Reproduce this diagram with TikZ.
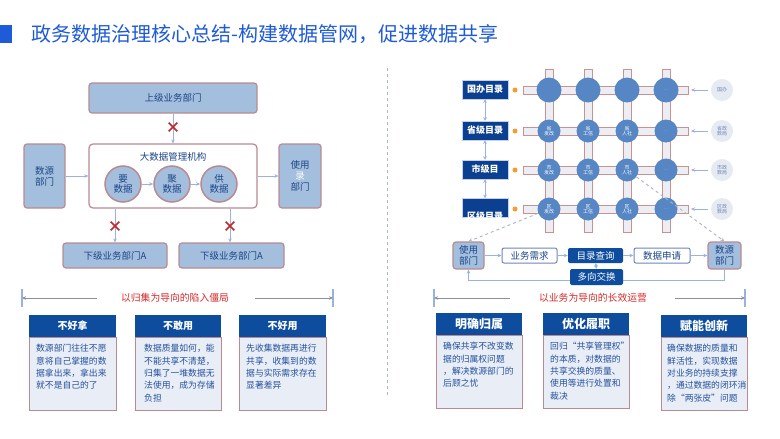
\documentclass[tikz,border=0pt]{standalone}
\usepackage{fontspec}
\setmainfont{Noto Sans CJK SC}
\usetikzlibrary{arrows.meta,shapes.misc}
\definecolor{titleblue}{HTML}{1E5BD8}
\definecolor{boxfill}{HTML}{A4BFDD}
\definecolor{boxedge}{HTML}{B98A8F}
\definecolor{txtblue}{HTML}{1C4587}
\definecolor{hdrblue}{HTML}{0E4C9E}
\definecolor{bodyfill}{HTML}{E9EDF5}
\definecolor{gridblue}{HTML}{5686C4}
\definecolor{pipefill}{HTML}{ECEEF3}
\definecolor{pipeedge}{HTML}{C99292}
\definecolor{arrowblue}{HTML}{9CB2DE}
\definecolor{xred}{HTML}{C0282A}
\definecolor{labred}{HTML}{D62A2A}
\definecolor{graycirc}{HTML}{E6EAF1}
\definecolor{dashgray}{HTML}{A9B4C6}
\definecolor{orangedot}{HTML}{F0A030}
\definecolor{brgray}{HTML}{8A8F99}
\definecolor{labbox}{HTML}{0B3F8F}
\definecolor{flowedge}{HTML}{6D87BD}
\definecolor{bodytext}{HTML}{24529E}
\tikzset{
  lbox/.style={draw=boxedge, fill=boxfill, rounded corners=3pt, line width=1.2pt, text=txtblue,
    font=\fontsize{9.5}{11}\selectfont, align=center, inner sep=0pt},
  wbox/.style={draw=boxedge, fill=white, rounded corners=4pt, line width=1.2pt, inner sep=0pt},
  lcirc/.style={circle, draw=boxedge, fill=boxfill, line width=1.5pt, text=txtblue, minimum size=36pt,
    inner sep=0pt, align=center, font=\fontsize{9.5}{10.5}\selectfont},
  arr/.style={draw=arrowblue, line width=1pt, -{Stealth[length=4pt,width=3.5pt]}},
  dbl/.style={draw=arrowblue, line width=1pt, {Stealth[length=3.5pt,width=3.5pt]}-{Stealth[length=3.5pt,width=3.5pt]}},
  xmark/.style={cross out, draw=xred, line width=1.6pt, minimum size=7pt, inner sep=0pt},
  hdr/.style={fill=hdrblue, text=white, inner sep=0pt, font=\bfseries\fontsize{10}{10}\selectfont},
  bodybox/.style={fill=bodyfill, draw=boxedge, line width=0.9pt, inner sep=0pt},
  bodytxt/.style={anchor=north west, align=left, inner sep=0pt, text=bodytext, font=\fontsize{8.8}{12.4}\selectfont},
  brline/.style={draw=brgray, line width=1pt, -{Stealth[length=4pt,width=3.5pt]}},
  brtick/.style={draw=arrowblue, line width=1.4pt},
  redlab/.style={text=labred, inner sep=0pt, font=\fontsize{9.8}{10}\selectfont},
  pipe/.style={fill=pipefill, draw=pipeedge, line width=0.8pt},
  gnode/.style={circle, fill=gridblue, minimum size=23pt, inner sep=0pt, text=white, align=center,
    font=\fontsize{5}{5.5}\selectfont},
  bub/.style={circle, fill=graycirc, minimum size=22pt, inner sep=0pt, text=flowedge, align=center,
    font=\fontsize{5}{5.5}\selectfont},
  dirbox/.style={fill=labbox, draw=arrowblue!60, line width=0.5pt, text=white, minimum width=46pt,
    minimum height=19pt, inner sep=0pt, font=\bfseries\fontsize{9}{9}\selectfont},
  flowW/.style={draw=flowedge, fill=white, rounded corners=2pt, line width=1pt, text=txtblue,
    inner sep=0pt, minimum height=15pt, font=\fontsize{9.5}{9.5}\selectfont},
  flowD/.style={fill=hdrblue, rounded corners=2pt, text=white, inner sep=0pt, minimum height=15pt,
    font=\fontsize{9.5}{9.5}\selectfont},
  dashconn/.style={draw=dashgray, dashed, line width=0.9pt, -{Stealth[length=4pt,width=3.5pt]}}
}
\begin{document}
\begin{tikzpicture}[x=1pt,y=-1pt]
\useasboundingbox[fill=white] (0,0) rectangle (780,439);
% title
\fill[titleblue] (0,25) rectangle (12,43);
\node[anchor=west, text=titleblue, inner sep=0pt, font=\fontsize{20}{20}\selectfont] (title) at (31,34) {政务数据治理核心总结-构建数据管网，促进数据共享};
% divider
\draw[dashgray, dashed, line width=0.8pt] (387,68) -- (387,395);

% ---------- left diagram ----------
\node[lbox, minimum width=168pt, minimum height=30pt] (sj) at (173,98) {上级业务部门};
\node[wbox, minimum width=168pt, minimum height=64pt] (dsj) at (173,176) {};
\node[text=txtblue, inner sep=0pt, font=\fontsize{9.5}{10}\selectfont] (dsjt) at (173,157) {大数据管理机构};
\node[lcirc] (c1) at (123,184) {要\\数据};
\node[lcirc] (c2) at (172,184) {聚\\数据};
\node[lcirc] (c3) at (219,184) {供\\数据};
\node[lbox, minimum width=41pt, minimum height=64pt] (sy) at (44.5,176) {数源\\部门};
\node[lbox, minimum width=42pt, minimum height=64pt] (syb) at (300,176) {使用\\{\color{white}录}\\部门};
\node[lbox, minimum width=104pt, minimum height=25pt] (xj1) at (115,255.5) {下级业务部门A};
\node[lbox, minimum width=105pt, minimum height=25pt] (xj2) at (231.5,255.5) {下级业务部门A};
\draw[arr] (sj) -- (dsj);
\draw[arr] (sy) -- (dsj);
\draw[arr] (dsj) -- (syb);
\draw[arr] (c1) -- (c2);
\draw[arr] (c2) -- (c3);
\draw[arr] (dsj.south -| xj1.north) -- (xj1.north);
\draw[arr] (dsj.south -| 230,0) -- (xj2.north -| 230,0);
\node[xmark] (x1) at (173,127) {};
\node[xmark] (x2) at (115,226) {};
\node[xmark] (x3) at (230,226) {};

% bracket left
\coordinate (bl1) at (22,298);
\coordinate (bl2) at (97,298);
\coordinate (bl3) at (255,298);
\coordinate (bl4) at (333,298);
\draw[brtick] (22,289) -- (22,307);
\draw[brtick] (333,289) -- (333,307);
\draw[brline] (bl2) -- (bl1);
\draw[brline] (bl3) -- (bl4);
\node[redlab] (lab1) at (175,298) {以归集为导向的陷入僵局};

% left bottom boxes
\node[bodybox, minimum width=87pt, minimum height=73pt, anchor=north west] (lb1) at (29,337) {};
\node[hdr, minimum width=87pt, minimum height=22pt, anchor=south west] (lh1) at (29,337) {不好拿};
\node[bodytxt] (lt1) at (36,344) {数源部门往往不愿\\意将自己掌握的数\\据拿出来，拿出来\\就不是自己的了};
\node[bodybox, minimum width=86pt, minimum height=73pt, anchor=north west] (lb2) at (135,337) {};
\node[hdr, minimum width=86pt, minimum height=22pt, anchor=south west] (lh2) at (135,337) {不敢用};
\node[bodytxt] (lt2) at (144,344) {数据质量如何，能\\不能共享不清楚，\\归集了一堆数据无\\法使用，成为存储\\负担};
\node[bodybox, minimum width=87pt, minimum height=73pt, anchor=north west] (lb3) at (239,337) {};
\node[hdr, minimum width=87pt, minimum height=22pt, anchor=south west] (lh3) at (239,337) {不好用};
\node[bodytxt] (lt3) at (246,344) {先收集数据再进行\\共享，收集到的数\\据与实际需求存在\\显著差异};

% ---------- right grid ----------
\foreach \x in {549,588,627,666} {
  \filldraw[pipe] (\x-4,69) rectangle (\x+4,232);
}
\foreach \y in {90,131,170,209} {
  \filldraw[pipe] (523,\y-4) rectangle (688,\y+4);
  \fill[orangedot] (515,\y) circle (2.5pt);
}
\node[gnode, minimum size=25pt] (g11) at (549,90) {};
\node[gnode, minimum size=25pt] (g12) at (588,90) {};
\node[gnode, minimum size=25pt] (g13) at (627,90) {};
\node[gnode, minimum size=25pt] (g14) at (666,90) {\textcolor{boxfill}{…}};
\node[gnode] (g21) at (549,131) {省\\发改};
\node[gnode] (g22) at (588,131) {省\\工信};
\node[gnode] (g23) at (627,131) {省\\人社};
\node[gnode] (g24) at (666,131) {\textcolor{boxfill}{…}};
\node[gnode] (g31) at (549,170) {市\\发改};
\node[gnode] (g32) at (588,170) {市\\工信};
\node[gnode] (g33) at (627,170) {市\\人社};
\node[gnode] (g34) at (666,170) {\textcolor{boxfill}{…}};
\node[gnode] (g41) at (549,209) {区\\发改};
\node[gnode] (g42) at (588,209) {区\\工信};
\node[gnode] (g43) at (627,209) {区\\人社};
\node[gnode] (g44) at (666,209) {\textcolor{boxfill}{…}};

% bubbles on right
\node[bub] (b1) at (722,90) {国办};
\node[bub] (b2) at (722,131) {省政\\数局};
\node[bub] (b3) at (722,170) {市政\\数局};
\node[bub] (b4) at (722,209) {区政\\数局};
\foreach \i/\y in {1/90,2/131,3/170,4/209} {
  \coordinate (pe\i) at (688,\y);
  \draw[arr, shorten <=3pt, shorten >=3pt] (b\i.west) -- (pe\i);
}

% directory boxes
\node[dirbox] (d1) at (485,89.5) {国办目录};
\node[dirbox] (d2) at (485,130.5) {省级目录};
\node[dirbox] (d3) at (485,169.5) {市级目};
\node[dirbox] (d4) at (485,208) {};
\begin{scope}
\clip (d4.south west) rectangle (d4.north east);
\node[text=white, inner sep=0pt, font=\bfseries\fontsize{9}{9}\selectfont] (d4t) at (485,216.5) {区级目录};
\end{scope}
\draw[dbl] (d1) -- (d2);
\draw[dbl] (d2) -- (d3);
\draw[dbl] (d3) -- (d4);

% bottom flow
\node[lbox, minimum width=31pt, minimum height=27pt] (use) at (468.5,255.5) {使用\\部门};
\node[flowW, minimum width=55pt] (req) at (529.5,255.5) {业务需求};
\node[flowD, minimum width=55pt] (qry) at (595.5,255.5) {目录查询};
\node[flowW, minimum width=56pt] (app) at (662,255.5) {数据申请};
\node[lbox, minimum width=33pt, minimum height=27pt] (src) at (724.5,255.5) {数源\\部门};
\draw[arr] (src.south) -- (src.south |- 0,280) -| (use.south);
\node[flowD, minimum width=53pt, minimum height=16pt] (exch) at (596.5,277) {多向交换};
\draw[arr] (use) -- (req);
\draw[arr] (req) -- (qry);
\draw[arr] (qry) -- (app);
\draw[arr] (app) -- (src);
\draw[dbl, line width=0.8pt] (qry.south) -- (exch.north);
\draw[dashconn] (g41) -- (use.north);
\draw[dashconn] (g33) -- (src.north);

% bracket right
\coordinate (br1) at (434,298);
\coordinate (br2) at (510,298);
\coordinate (br3) at (675,298);
\coordinate (br4) at (745,298);
\draw[brtick] (434,289) -- (434,307);
\draw[brtick] (745,289) -- (745,307);
\draw[brline] (br2) -- (br1);
\draw[brline] (br3) -- (br4);
\node[redlab] (lab2) at (593,298) {以业务为导向的长效运营};

% right bottom boxes
\node[bodybox, minimum width=86pt, minimum height=73pt, anchor=north west] (rb1) at (436,335) {};
\node[hdr, minimum width=86pt, minimum height=22pt, anchor=south west, font=\bfseries\fontsize{12}{12}\selectfont] (rh1) at (436,335) {明确归属};
\node[bodytxt] (rt1) at (443,342) {确保共享不改变数\\据的归属权问题\\，解决数源部门的\\后顾之忧};
\node[bodybox, minimum width=86pt, minimum height=73pt, anchor=north west] (rb2) at (543,335) {};
\node[hdr, minimum width=86pt, minimum height=22pt, anchor=south west, font=\bfseries\fontsize{12}{12}\selectfont] (rh2) at (543,335) {优化履职};
\node[bodytxt] (rt2) at (550,342) {回归“共享管理权”\\的本质，对数据的\\共享交换的质量、\\使用等进行处置和\\裁决};
\node[bodybox, minimum width=86pt, minimum height=73pt, anchor=north west] (rb3) at (661,337) {};
\node[hdr, minimum width=86pt, minimum height=22pt, anchor=south west, font=\bfseries\fontsize{12}{12}\selectfont] (rh3) at (661,337) {赋能创新};
\node[bodytxt] (rt3) at (667,344) {确保数据的质量和\\鲜活性，实现数据\\对业务的持续支撑\\，通过数据的闭环消\\除“两张皮”问题};
\end{tikzpicture}
\end{document}
